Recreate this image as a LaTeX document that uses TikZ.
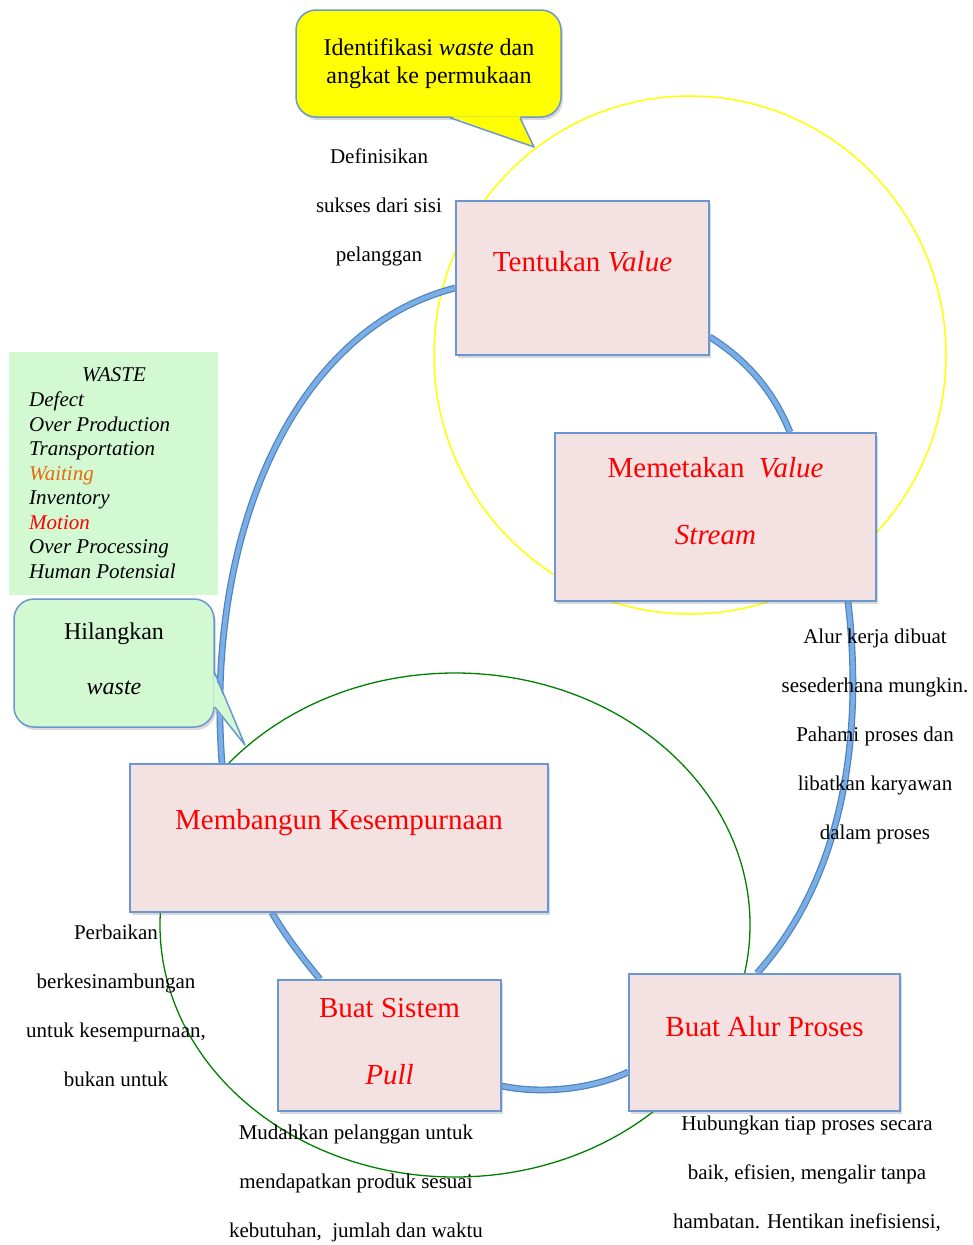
\documentclass[tikz,border=0pt]{standalone}
\usepackage{fontspec}
\setmainfont{Liberation Serif}
\usetikzlibrary{shadows,calc}
\pgfdeclarelayer{bg}
\pgfsetlayers{bg,main}
\definecolor{boxfill}{HTML}{F3E2E1}
\definecolor{boxline}{HTML}{6A97CF}
\definecolor{cycout}{HTML}{4F81BD}
\definecolor{cycin}{HTML}{79AEE6}
\definecolor{lgreen}{HTML}{D3F9D3}
\definecolor{ygl}{HTML}{FFFF00}
\definecolor{grn}{HTML}{008000}
\definecolor{waitc}{HTML}{E46C0A}
\begin{document}
\begin{tikzpicture}[x=1pt,y=-1pt,
  shad/.style={drop shadow={shadow xshift=2pt, shadow yshift=-3pt, opacity=0.3}},
  box/.style={draw=boxline, line width=1.5pt, fill=boxfill, inner sep=0pt, shad},
  boxtxt/.style={text=red, font=\fontsize{29}{67}\selectfont, align=center, inner sep=0pt},
  note/.style={font=\fontsize{21}{49}\selectfont, align=center, inner sep=0pt},
  cyc/.style={draw=cycout, double=cycin, line width=1.2pt, double distance=4.4pt},
  callout/.style={draw=boxline, line width=1.5pt, rounded corners=20pt, inner sep=0pt, shad},
  tailedge/.style={draw=boxline, line width=1.5pt, line join=round},
  calltxt/.style={align=center, inner sep=0pt},
]
\useasboundingbox (0,0) rectangle (973,1245);

% boxes
\node[box, minimum width=253pt, minimum height=154pt] (tv) at (582.5,278) {};
\node[box, minimum width=321pt, minimum height=168pt] (mv) at (715.5,517) {};
\node[box, minimum width=271pt, minimum height=137pt] (ba) at (764.5,1042.5) {};
\node[box, minimum width=223pt, minimum height=131pt] (bs) at (389.5,1045.5) {};
\node[box, minimum width=418pt, minimum height=148pt] (mk) at (339,838) {};

\node[boxtxt] (tvt) at (582.5,262) {Tentukan \textit{Value}};
\node[boxtxt] (mvt) at (715.5,501.5) {Memetakan\ \ \textit{Value}\\\textit{Stream}};
\node[boxtxt] (bat) at (764.5,1027) {Buat Alur Proses};
\node[boxtxt] (bst) at (389.5,1042) {Buat Sistem\\\textit{Pull}};
\node[boxtxt] (mkt) at (339,823) {Membangun Kesempurnaan};

% circles and cycle (behind boxes)
\begin{pgfonlayer}{bg}
\draw[ygl, line width=1.5pt] (690,355) ellipse [x radius=256, y radius=259];
\draw[grn, line width=1.3pt] (455,925) ellipse [x radius=295, y radius=252];
\draw[cyc] ([yshift=-10pt]tv.west) .. controls (290,330) and (205,540) .. ([xshift=-117pt]mk.north);
\draw[cyc] ([yshift=-59pt]tv.east) .. controls (750,362) and (775,395) .. ([xshift=74.5pt]mv.north);
\draw[cyc] ([xshift=132.5pt]mv.south) .. controls (862,720) and (850,870) .. ([xshift=-7.5pt]ba.north);
\draw[cyc] ([yshift=-29.5pt]ba.west) .. controls (590,1090) and (540,1094) .. ([yshift=-40.5pt]bs.east);
\draw[cyc] ([xshift=-69.5pt]bs.north) .. controls (300,955) and (285,935) .. ([xshift=-67pt]mk.south);
\end{pgfonlayer}

% notes
\node[note] (n1) at (379,207) {Definisikan\\sukses dari sisi\\pelanggan};
\node[note] (n2) at (875,736) {Alur kerja dibuat\\sesederhana mungkin.\\Pahami proses dan\\libatkan karyawan\\dalam proses};
\node[note] (n3) at (116,1005.5) {Perbaikan\\berkesinambungan\\untuk kesempurnaan,\\bukan untuk};
\node[note] (n4) at (356,1183) {Mudahkan pelanggan untuk\\mendapatkan produk sesuai\\kebutuhan,\ \ jumlah dan waktu};
\node[note] (n5) at (807,1173.5) {Hubungkan tiap proses secara\\baik, efisien, mengalir tanpa\\hambatan. Hentikan inefisiensi,};

% waste list
\node[fill=lgreen, minimum width=209pt, minimum height=243pt, inner sep=0pt] (wbox) at (113.5,473.5) {};
\node[font=\fontsize{21}{24.5}\selectfont\itshape, inner sep=0pt] (wt) at (114,375) {WASTE};
\node[font=\fontsize{21}{24.5}\selectfont\itshape, align=left, anchor=west, inner sep=0pt] (wl) at (29,485)
  {Defect\\Over Production\\Transportation\\\textcolor{waitc}{Waiting}\\Inventory\\\textcolor{red}{Motion}\\Over Processing\\Human Potensial};

% yellow callout
\node[callout, fill=ygl, minimum width=265pt, minimum height=107pt] (yc) at (428.5,63.5) {};
\coordinate (ytip) at (534,147);
\fill[ygl] ([xshift=21.5pt,yshift=1.5pt]yc.south) -- (ytip) -- ([xshift=91.5pt,yshift=1.5pt]yc.south) -- cycle;
\draw[tailedge] ([xshift=21.5pt]yc.south) -- (ytip) -- ([xshift=91.5pt]yc.south);
\node[calltxt, font=\fontsize{24}{28}\selectfont] (yt) at (429,64) {Identifikasi \textit{waste} dan\\angkat ke permukaan};

% green callout
\node[callout, fill=lgreen, minimum width=200pt, minimum height=128pt] (gc) at (114,663) {};
\coordinate (gtip) at (245,745);
\fill[lgreen] ([xshift=-1.5pt,yshift=-10pt]gc.east) -- (gtip) -- ([xshift=-1.5pt,yshift=-44pt]gc.east) -- cycle;
\draw[tailedge] ([yshift=-10pt]gc.east) -- (gtip) -- ([yshift=-44pt]gc.east);
\node[calltxt, font=\fontsize{24}{55}\selectfont] (gt) at (114,658.5) {Hilangkan\\\textit{waste}};
\end{tikzpicture}
\end{document}
